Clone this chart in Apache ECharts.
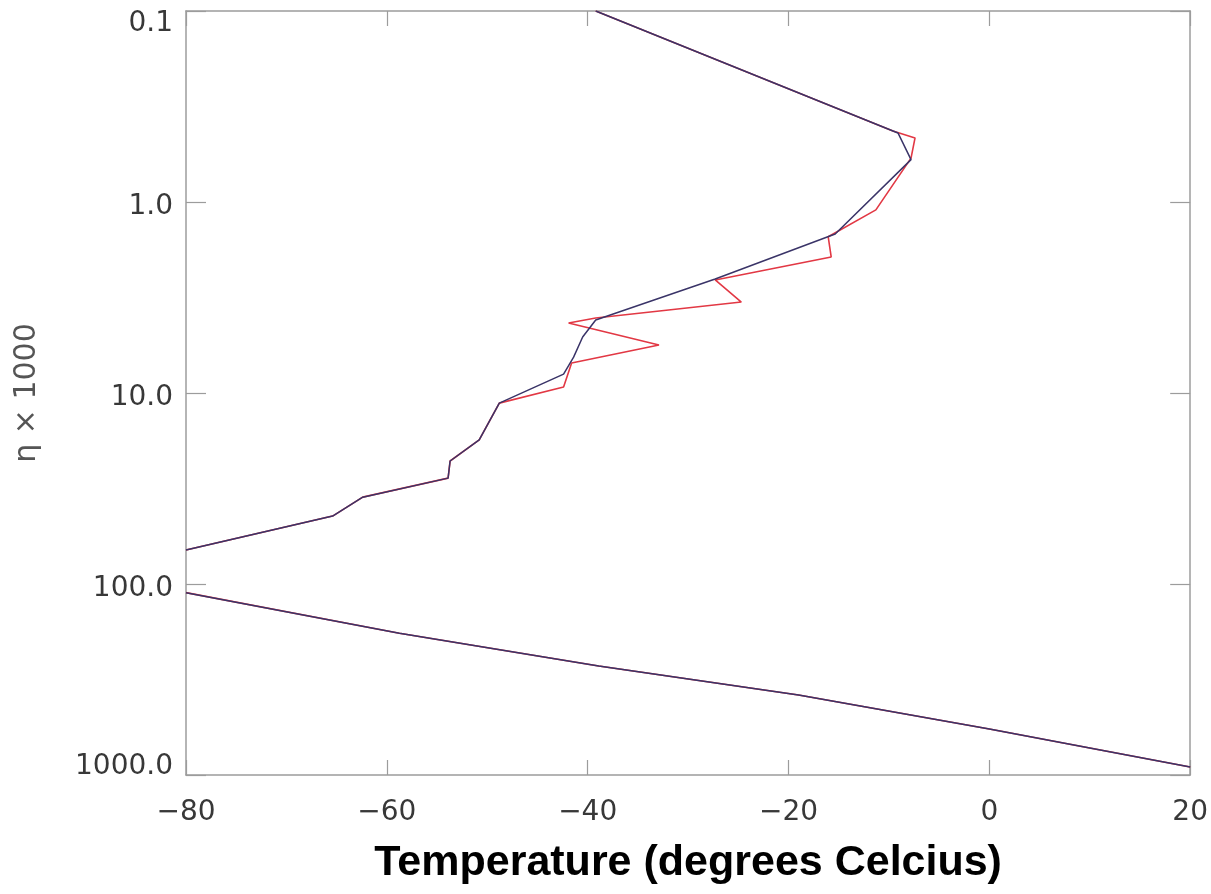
<!DOCTYPE html>
<html>
<head>
<meta charset="utf-8">
<script src="https://cdn.jsdelivr.net/npm/echarts@6/dist/echarts.min.js"></script>
<style>
  html, body { margin: 0; padding: 0; background: #ffffff; }
  #chart { width: 1211px; height: 894px; }
</style>
</head>
<body>
<div id="chart"></div>
<script>
// ---- Data ----
// Smoothed profile (blue). null marks the break where the profile leaves the plot (colder than -80 °C).
var blueTemp = [-39.2, -9.1, -7.8, -15.35, -27.3, -39.2, -40.5, -41.4, -42.4, -48.8, -50.8, -53.7, -53.9, -62.4, -65.4, -80.0, null, -80.0, -58.75, -38.9, -19.0, 0.0, 20.0];
var blueEta  = [0.1, 0.435, 0.60, 1.47, 2.53, 4.15, 5.09, 6.49, 7.96, 11.3, 17.6, 22.7, 27.9, 35.1, 44.1, 66.4, null, 111, 181, 269, 381, 574, 908];

// Raw profile (red)
var redTemp = [-39.2, -9.6, -7.4, -7.8, -11.3, -16.05, -15.75, -27.3, -24.7, -39.2, -41.9, -32.9, -41.6, -42.4, -48.8, -50.8, -53.7, -53.9, -62.4, -65.4, -80.0, null, -80.0, -58.75, -38.9, -19.0, 0.0, 20.0];
var redEta  = [0.1, 0.425, 0.462, 0.589, 1.10, 1.52, 1.94, 2.56, 3.34, 4.05, 4.30, 5.61, 6.97, 9.31, 11.3, 17.6, 22.7, 27.9, 35.1, 44.1, 66.4, null, 111, 181, 269, 381, 574, 908];

// Tick labels
var xTickLabels = ['\u221280', '\u221260', '\u221240', '\u221220', '0', '20'];
var yTickLabels = ['0.1', '1.0', '10.0', '100.0', '1000.0'];

var xTitle = 'Temperature (degrees Celcius)';
var yTitle = '\u03b7 \u00d7 1000';

function pairs(xs, ys) {
  var out = [];
  for (var i = 0; i < xs.length; i++) {
    if (xs[i] === null || ys[i] === null) out.push(['-', '-']);
    else out.push([xs[i], ys[i]]);
  }
  return out;
}

var axisGray = '#9c9c9c';
var labelFont = 'DejaVu Sans';
var labelColor = '#383838';

var chart = echarts.init(document.getElementById('chart'), null, { renderer: 'canvas' });

var option = {
  backgroundColor: '#ffffff',
  animation: false,
  grid: { left: 186, top: 11, right: 18, bottom: 119, containLabel: false },
  xAxis: [
    {
      type: 'value', min: -80, max: 20, interval: 20, position: 'bottom',
      axisLine: { show: true, onZero: false, lineStyle: { color: axisGray, width: 1.5 } },
      axisTick: { show: true, inside: true, length: 15, lineStyle: { color: axisGray, width: 1.2 } },
      splitLine: { show: false },
      axisLabel: {
        margin: 24, fontSize: 28, color: labelColor, fontFamily: labelFont,
        formatter: function (v) { return xTickLabels[Math.round((v + 80) / 20)]; }
      },
      name: xTitle, nameLocation: 'middle', nameGap: 67,
      nameTextStyle: { fontSize: 43, fontWeight: 'bold', color: '#000000', fontFamily: 'Liberation Sans' }
    },
    {
      type: 'value', min: -80, max: 20, interval: 20, position: 'top',
      axisLine: { show: true, onZero: false, lineStyle: { color: axisGray, width: 1.5 } },
      axisTick: { show: true, inside: true, length: 15, lineStyle: { color: axisGray, width: 1.2 } },
      splitLine: { show: false },
      axisLabel: { show: false }
    }
  ],
  yAxis: [
    {
      type: 'log', logBase: 10, min: 0.1, max: 1000, inverse: true, position: 'left',
      axisLine: { show: true, onZero: false, lineStyle: { color: axisGray, width: 1.5 } },
      axisTick: { show: true, inside: true, length: 20, lineStyle: { color: axisGray, width: 1.2 } },
      minorTick: { show: false },
      splitLine: { show: false },
      axisLabel: {
        margin: 13, color: labelColor, fontFamily: labelFont, fontSize: 28,
        formatter: function (v) {
          var i = Math.round(Math.log10(v)) + 1;
          var style = i === 0 ? 'first' : (i === yTickLabels.length - 1 ? 'last' : 'mid');
          return '{' + style + '|' + yTickLabels[i] + '}';
        },
        rich: {
          first: { fontSize: 28, fontFamily: labelFont, color: labelColor, padding: [26, 0, 0, 0] },
          mid: { fontSize: 28, fontFamily: labelFont, color: labelColor, padding: [10, 0, 0, 0] },
          last: { fontSize: 28, fontFamily: labelFont, color: labelColor, padding: [0, 0, 16, 0] }
        }
      },
      name: yTitle, nameLocation: 'middle', nameGap: 144, nameRotate: 90,
      nameTextStyle: { fontSize: 30, color: '#555555', fontFamily: labelFont }
    },
    {
      type: 'log', logBase: 10, min: 0.1, max: 1000, inverse: true, position: 'right',
      axisLine: { show: true, onZero: false, lineStyle: { color: axisGray, width: 1.5 } },
      axisTick: { show: true, inside: true, length: 20, lineStyle: { color: axisGray, width: 1.2 } },
      splitLine: { show: false },
      axisLabel: { show: false }
    }
  ],
  series: [
    {
      name: 'raw', type: 'line', xAxisIndex: 0, yAxisIndex: 0,
      data: pairs(redTemp, redEta), showSymbol: false, symbol: 'none',
      connectNulls: false, clip: true,
      lineStyle: { color: '#e23844', width: 1.6 }
    },
    {
      name: 'smooth', type: 'line', xAxisIndex: 0, yAxisIndex: 0,
      data: pairs(blueTemp, blueEta), showSymbol: false, symbol: 'none',
      connectNulls: false, clip: true,
      lineStyle: { color: '#3a3468', width: 1.5 }
    }
  ]
};

chart.setOption(option);
</script>
</body>
</html>
